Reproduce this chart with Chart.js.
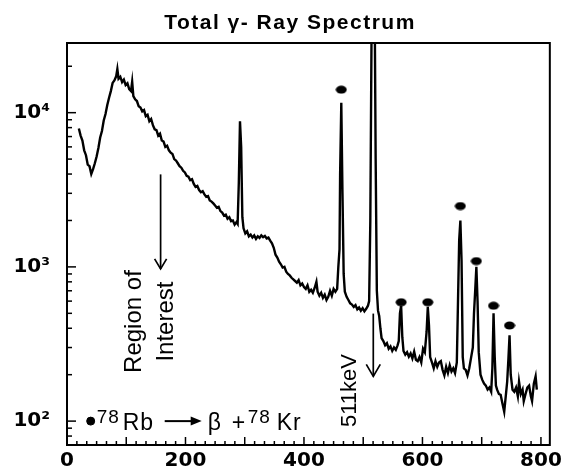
<!DOCTYPE html>
<html><head><meta charset="utf-8">
<script src="https://cdn.jsdelivr.net/npm/chart.js@4.4.0/dist/chart.umd.min.js"></script>
<style>html,body{margin:0;padding:0;background:#fff;} canvas{display:block;}</style>
</head><body>
<canvas id="c" width="566" height="474"></canvas>
<script>
// ---- data (energy in keV, counts) ----
const energy = [20,23,26,29,32,35,38,41,44,47,50,53,56,59,62,65,68,71,74,77,80,83,85,87,90,93,96,99,102,105,108,110,112,115,118,121,124,127,130,133,136,139,142,145,148,151,154,157,160,163,166,169,172,175,178,181,184,187,190,193,196,199,202,205,208,211,214,217,220,223,226,229,232,235,238,241,244,247,250,253,256,259,262,265,268,271,274,277,280,283,286,288,290,292,294,296,298,301,304,307,310,313,316,319,322,325,328,331,334,337,340,343,346,349,352,355,358,361,364,367,370,373,376,379,382,385,388,391,394,397,400,403,406,409,412,415,418,421,423,426,429,432,435,438,441,444,447,450,453,456,458,460,461,463,465,467,469,472,475,478,481,484,487,490,493,496,499,502,505,508,510,512,514,516,519,521,523,525,527,529,531,534,537,540,543,546,549,552,555,558,560,562,564,566,568,571,574,577,580,583,586,589,592,595,598,601,604,607,609,611,613,616,619,622,625,628,631,634,637,640,643,646,649,652,655,658,660,662,664,666,668,670,673,676,679,682,685,687,689,691,693,695,698,701,704,707,710,713,716,718,720,722,724,726,729,732,735,738,741,743,745,747,749,752,755,758,761,763,766,769,771,774,777,780,783,785,788,791,793];
const counts = [7900,7100,6600,5700,5300,4600,4500,4000,4300,4700,5200,5900,6900,7600,8900,9800,11200,12500,13800,15600,16200,17200,19200,16600,17100,15800,16400,15100,15500,14200,13800,15900,12800,12200,11900,11000,10800,10200,10400,9500,9700,8800,9100,8300,7800,7700,7100,7300,6600,6500,6000,6100,5700,5500,5400,5000,4900,4700,4500,4400,4200,4100,3900,3850,3650,3700,3450,3300,3350,3150,3050,3100,2950,2850,2880,2700,2650,2580,2500,2420,2450,2300,2250,2150,2180,2050,2100,1980,2000,1880,1950,1900,3500,8800,6000,2100,1780,1650,1700,1580,1620,1550,1600,1520,1580,1540,1600,1560,1590,1530,1550,1480,1420,1330,1200,1150,1080,1040,990,1000,930,900,880,850,830,810,790,820,760,780,740,720,760,690,710,680,730,800,690,650,680,630,660,610,640,700,650,720,690,720,1000,1300,4000,11600,3000,900,690,640,610,580,570,550,565,530,545,520,540,515,535,560,600,2000,30000,80000,80000,5000,700,520,480,400,345,330,310,320,295,305,285,300,290,310,330,500,560,350,285,270,280,262,275,255,282,250,245,260,240,295,280,380,550,420,260,240,220,245,225,240,245,215,198,225,205,230,210,220,205,240,600,1500,2000,1100,260,220,215,198,220,257,300,500,700,1000,600,280,200,185,175,170,160,165,155,220,500,260,170,160,150,148,130,115,150,180,250,360,200,160,155,165,145,180,150,160,135,150,165,170,145,135,175,195,160];
const peakEnergy = [463,564,609,664,691,720,747];
const peakMarkCounts = [14100,590,590,2480,1090,560,417];
const legendEnergy = [40];
const legendCounts = [100];
const xTickValues = [0,200,400,600,800];
const yTickValues = [100,1000,10000];
const yTickLabels = ['10²','10³','10⁴'];
const titleText = 'Total γ- Ray Spectrum';
const regionLines = ['Region of','Interest'];
const regionArrow = {x:158, from:3980, to:970};
const regionTextAnchor = {x:125, y:442};
const keVText = '511keV';
const keVArrow = {x:517, from:498, to:195};
const keVTextAnchor = {x:488, y:158};

// elliptical marker
const ell = document.createElement('canvas'); ell.width = 12; ell.height = 9;
const ec = ell.getContext('2d'); ec.fillStyle = '#000';
ec.beginPath(); ec.ellipse(6,4.5,5.5,4,0,0,Math.PI*2); ec.fill();

function arrowDown(ctx, px, y1, y2, hl, hw){
  ctx.beginPath(); ctx.moveTo(px,y1); ctx.lineTo(px,y2); ctx.stroke();
  ctx.beginPath(); ctx.moveTo(px-hw,y2-hl); ctx.lineTo(px,y2); ctx.lineTo(px+hw,y2-hl); ctx.stroke();
}

const frame = {
  id:'frame',
  afterDraw(chart){
    const {ctx, chartArea:a, scales:{x,y}} = chart;
    ctx.save();
    ctx.strokeStyle = '#000'; ctx.fillStyle = '#000';
    ctx.lineWidth = 2;
    ctx.strokeRect(a.left, a.top, a.right-a.left, a.bottom-a.top);
    ctx.lineWidth = 1.5;
    for (let e=1;e<=4;e++) for (let m=1;m<=9;m++){
      const v = m*Math.pow(10,e); if (v<y.min || v>y.max) continue;
      const py = y.getPixelForValue(v); const len = m===1?9:5;
      ctx.beginPath(); ctx.moveTo(a.left,py); ctx.lineTo(a.left+len,py); ctx.stroke();
    }
    for (let i=0; i*100/6 <= x.max; i++){
      const px = x.getPixelForValue(i*100/6); const len = i%6===0?8:4;
      ctx.beginPath(); ctx.moveTo(px,a.bottom); ctx.lineTo(px,a.bottom-len); ctx.stroke();
    }
    // title
    ctx.font = 'bold 21px "Liberation Sans", Arial, sans-serif';
    ctx.letterSpacing = '1.5px';
    ctx.textAlign = 'center'; ctx.textBaseline = 'alphabetic';
    ctx.fillText(titleText, 290, 29);
    ctx.letterSpacing = '0px';
    // arrows
    ctx.lineWidth = 1.7;
    arrowDown(ctx, x.getPixelForValue(regionArrow.x), y.getPixelForValue(regionArrow.from), y.getPixelForValue(regionArrow.to), 10, 6);
    arrowDown(ctx, x.getPixelForValue(keVArrow.x), y.getPixelForValue(keVArrow.from), y.getPixelForValue(keVArrow.to), 12, 7);
    // region of interest text
    ctx.save();
    ctx.translate(x.getPixelForValue(regionTextAnchor.x), y.getPixelForValue(regionTextAnchor.y));
    ctx.rotate(-Math.PI/2);
    ctx.font = '24px "Liberation Sans", Arial, sans-serif';
    ctx.textAlign = 'center'; ctx.textBaseline = 'alphabetic';
    ctx.fillText(regionLines[0], 0, 0);
    ctx.fillText(regionLines[1], 0, 32);
    ctx.restore();
    ctx.save();
    ctx.translate(x.getPixelForValue(keVTextAnchor.x), y.getPixelForValue(keVTextAnchor.y));
    ctx.rotate(-Math.PI/2);
    ctx.font = '22px "Liberation Sans", Arial, sans-serif';
    ctx.textAlign = 'center'; ctx.textBaseline = 'alphabetic';
    ctx.fillText(keVText, 0, 0);
    ctx.restore();
    // reaction legend
    const lx = x.getPixelForValue(legendEnergy[0]), ly = y.getPixelForValue(legendCounts[0]);
    ctx.textAlign = 'left'; ctx.textBaseline = 'alphabetic';
    const sup = '19px "Liberation Sans", Arial, sans-serif';
    const big = '23px "Liberation Sans", Arial, sans-serif';
    ctx.letterSpacing = '1px';
    ctx.font = sup; ctx.fillText('78', lx+6, ly+2);
    ctx.font = big; ctx.fillText('Rb', lx+32, ly+9);
    ctx.lineWidth = 2;
    ctx.beginPath(); ctx.moveTo(lx+74, ly); ctx.lineTo(lx+104, ly); ctx.stroke();
    ctx.beginPath(); ctx.moveTo(lx+111, ly); ctx.lineTo(lx+100, ly-4.5); ctx.lineTo(lx+100, ly+4.5); ctx.closePath(); ctx.fill();
    ctx.font = big; ctx.fillText('β', lx+117, ly+9);
    ctx.fillText('+', lx+141, ly+9);
    ctx.font = sup; ctx.fillText('78', lx+157, ly+2);
    ctx.font = big; ctx.fillText('Kr', lx+186, ly+9);
    ctx.letterSpacing = '0px';
    ctx.restore();
  }
};

new Chart(document.getElementById('c'), {
  data: { datasets: [
    { type:'line', data: energy.map((e,i)=>({x:e, y:counts[i]})), borderColor:'#000', borderWidth:2.4, pointRadius:0, tension:0, fill:false },
    { type:'scatter', data: peakEnergy.map((e,i)=>({x:e, y:peakMarkCounts[i]})), pointStyle: ell, pointRadius:6, backgroundColor:'#000', borderColor:'#000', clip:false },
    { type:'scatter', data: legendEnergy.map((e,i)=>({x:e, y:legendCounts[i]})), pointStyle:'circle', pointRadius:4, backgroundColor:'#000', borderColor:'#000', clip:false }
  ]},
  options: {
    responsive:false, animation:false, devicePixelRatio:1,
    layout:{ padding:{ top:43, right:10, left:0, bottom:0 } },
    plugins:{ legend:{display:false}, tooltip:{enabled:false}, title:{display:false} },
    scales:{
      x:{ type:'linear', min:0, max:815,
        grid:{display:false, drawTicks:false}, border:{display:false},
        afterBuildTicks: s => { s.ticks = xTickValues.map(v=>({value:v})); },
        afterFit: s => { s.height = 27; },
        ticks:{ color:'#000', padding:4, maxRotation:0, autoSkip:false,
          font:{ family:'"DejaVu Sans"', weight:'bold', size:20 },
          callback: v => String(v) } },
      y:{ type:'logarithmic', min:70, max:28300,
        grid:{display:false, drawTicks:false}, border:{display:false},
        afterBuildTicks: s => { s.ticks = yTickValues.map(v=>({value:v})); },
        afterFit: s => { s.width = 67; },
        ticks:{ color:'#000', padding:17, autoSkip:false,
          font:{ family:'"DejaVu Sans"', weight:'bold', size:20 },
          callback: v => yTickLabels[yTickValues.indexOf(v)] } }
    }
  },
  plugins:[frame]
});
</script>
</body></html>
